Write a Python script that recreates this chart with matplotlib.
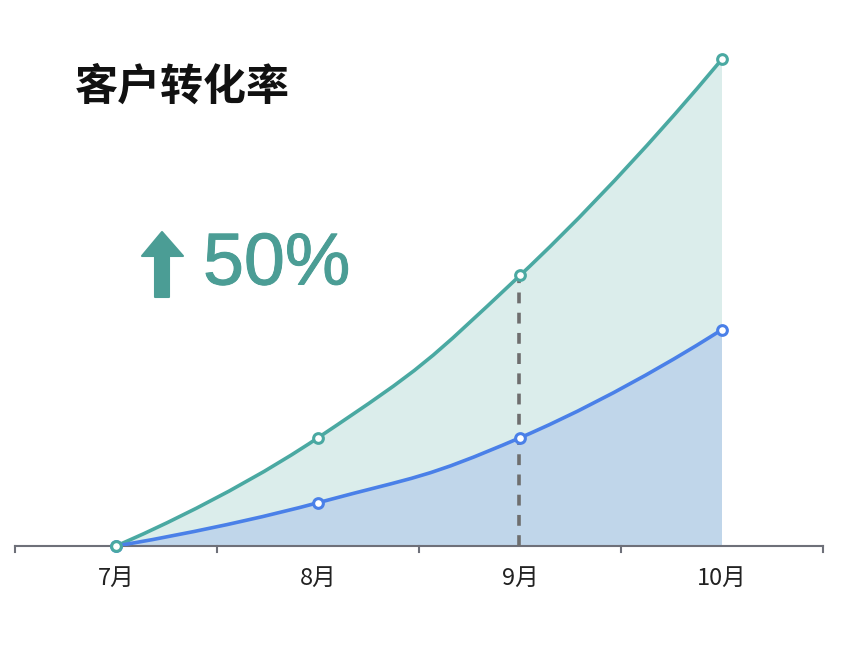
import matplotlib
matplotlib.use("Agg")
import matplotlib.pyplot as plt
import matplotlib.patheffects as pe
import numpy as np
from matplotlib.path import Path
from matplotlib.patches import PathPatch, Polygon

plt.rcParams['font.family'] = ['Noto Sans CJK SC', 'DejaVu Sans']

# data
months = ["7月", "8月", "9月", "10月"]
total = [0, 20, 50, 90]
converted = [0, 8, 20, 40]
highlight = 2  # 9月

GREEN = "#4aa9a2"
GREEN_FILL = "#dbedeb"
BLUE = "#4a80e8"
BLUE_FILL = "#c0d6ea"
TEAL = "#4b9d95"

W, H = 856, 650
fig = plt.figure(figsize=(W / 100, H / 100), dpi=100)
ax = fig.add_axes([15 / W, (H - 546) / H, (823 - 15) / W, (546 - 59) / H])
ax.set_xlim(-0.5, len(months) - 0.5)
ax.set_ylim(0, 90)


# echarts-like smooth curve, built in pixel space
def smooth_path(xs, ys, smooth=0.5):
    pts = ax.transData.transform(np.column_stack([xs, ys]))
    n = len(pts)
    cps_in, cps_out = [], []
    for i in range(n):
        p = pts[i]
        if i == 0 or i == n - 1:
            cps_in.append(p)
            cps_out.append(p)
            continue
        prev, nxt = pts[i - 1], pts[i + 1]
        v = nxt - prev
        d0 = np.linalg.norm(p - prev)
        d1 = np.linalg.norm(nxt - p)
        s = d0 + d1
        cps_in.append(p - v * smooth * d0 / s)
        cps_out.append(p + v * smooth * d1 / s)
    verts = [pts[0]]
    codes = [Path.MOVETO]
    for i in range(n - 1):
        verts += [cps_out[i], cps_in[i + 1], pts[i + 1]]
        codes += [Path.CURVE4] * 3
    inv = ax.transData.inverted()
    return inv.transform(np.array(verts)), codes


def draw_series(ys, line_color, fill_color, z, mz):
    xs = np.arange(len(ys))
    verts, codes = smooth_path(xs, ys)
    # fill area
    fverts = np.vstack([verts, [[xs[-1], 0], [xs[0], 0], verts[0]]])
    fcodes = codes + [Path.LINETO, Path.LINETO, Path.CLOSEPOLY]
    ax.add_patch(PathPatch(Path(fverts, fcodes), facecolor=fill_color,
                           edgecolor="none", zorder=z))
    ax.add_patch(PathPatch(Path(verts, codes), facecolor="none",
                           edgecolor=line_color, lw=2.6, zorder=z + 3,
                           capstyle="round", joinstyle="round"))
    ax.plot(xs, ys, "o", ms=7, mfc="white", mec=line_color, mew=2.2,
            zorder=mz, clip_on=False)


draw_series(total, GREEN, GREEN_FILL, 1, 11)
draw_series(converted, BLUE, BLUE_FILL, 2, 10)

# dashed guide at highlighted month
ax.plot([highlight - 0.005, highlight - 0.005], [0, total[highlight]],
        color="#6e6e6e", lw=2.6, ls=(0, (3, 2.6)), zorder=6)

# axes styling
for side in ["top", "right", "left"]:
    ax.spines[side].set_visible(False)
ax.spines["bottom"].set_color("#6e7079")
ax.spines["bottom"].set_linewidth(1.5)
ax.set_yticks([])
ax.set_xticks(np.arange(len(months)))
ax.set_xticklabels(months, fontsize=17, color="#222222")
ax.tick_params(axis="x", length=0, pad=15)
for b in np.arange(len(months) + 1) - 0.5:
    ax.plot([b, b], [0, -1.1], color="#6e7079", lw=1.5, clip_on=False)

# title and headline figure
fig.text(75 / W, 1 - 87 / H, "客户转化率", fontsize=31, fontweight="bold",
         color="#111111", va="center", ha="left")
fig.text(203 / W, 1 - 265 / H, "50%", fontsize=53, color=TEAL,
         va="center", ha="left", family=["Liberation Sans", "DejaVu Sans"],
         path_effects=[pe.withStroke(linewidth=0.7, foreground=TEAL)])
arrow = [(142, 256), (162, 232), (183, 256), (169, 256), (169, 297),
         (155, 297), (155, 256)]
fig.patches.append(Polygon([(x / W, 1 - y / H) for x, y in arrow],
                           closed=True, transform=fig.transFigure,
                           facecolor=TEAL, edgecolor=TEAL, lw=1.5,
                           joinstyle="round"))

fig.savefig("out.png", dpi=100, facecolor="white")
